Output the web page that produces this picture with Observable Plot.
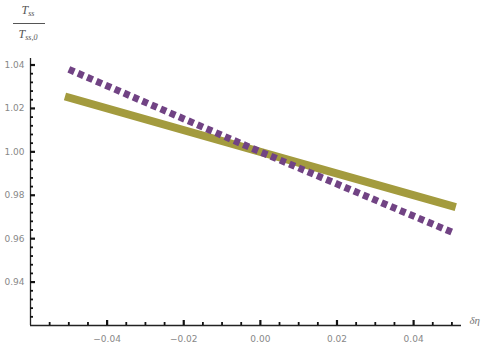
<!DOCTYPE html>
<html><head><meta charset="utf-8">
<script src="https://cdn.jsdelivr.net/npm/d3@7"></script>
<script src="https://cdn.jsdelivr.net/npm/@observablehq/plot@0.6"></script>
<style>body{margin:0;background:#fff}</style>
</head><body><div id="chart"></div>
<script>
const deltaEta = [-0.05, 0, 0.05];
const seriesGold = [1.025, 1.000, 0.975];
const seriesPurple = [1.038, 1.000, 0.963];
const xMajorTicks = [-0.04, -0.02, 0, 0.02, 0.04];
const xMinorTicks = [-0.055,-0.05,-0.045,-0.035,-0.03,-0.025,-0.015,-0.01,-0.005,0.005,0.01,0.015,0.025,0.03,0.035,0.045,0.05];
const yMajorTicks = [0.94, 0.96, 0.98, 1.00, 1.02, 1.04];
const yMinorTicks = [0.924,0.928,0.932,0.936,0.944,0.948,0.952,0.956,0.964,0.968,0.972,0.976,0.984,0.988,0.992,0.996,1.004,1.008,1.012,1.016,1.024,1.028,1.032,1.036];
const xDomain = [-0.06, 0.0525];
const yDomain = [0.92, 1.043];

const W = 484, H = 351, ML = 30, MR = 23, MT = 58, MB = 26;
const frameW = W - ML - MR, frameH = H - MT - MB;

const gold = deltaEta.map((x,i)=>({x, y: seriesGold[i]}));
const purple = deltaEta.map((x,i)=>({x, y: seriesPurple[i]}));
const fmt = d3.format(".2f");

const chart = Plot.plot({
  width: W, height: H,
  marginLeft: ML, marginRight: MR, marginTop: MT, marginBottom: MB,
  style: {background: "#fff", fontFamily: "DejaVu Sans, sans-serif"},
  x: {domain: xDomain, axis: null},
  y: {domain: yDomain, axis: null},
  marks: [
    Plot.line(gold, {x: "x", y: "y", stroke: "#a39b3e", strokeWidth: 8, strokeLinecap: "square"}),
    Plot.line(purple, {x: "x", y: "y", stroke: "#714384", strokeWidth: 7, strokeDasharray: "6,4", strokeLinecap: "butt"}),
    Plot.ruleY([yDomain[0]], {x1: xDomain[0], x2: xDomain[1], stroke: "#222", strokeWidth: 1.3}),
    Plot.ruleX([xDomain[0]], {y1: yDomain[0], y2: yDomain[1], stroke: "#222", strokeWidth: 1.3}),
    Plot.tickY(yMajorTicks, {y: d => d, insetRight: frameW - 5, stroke: "#111", strokeWidth: 2.2}),
    Plot.tickY(yMinorTicks, {y: d => d, insetRight: frameW - 3, stroke: "#111", strokeWidth: 1.8}),
    Plot.tickX(xMajorTicks, {x: d => d, insetTop: frameH - 5, stroke: "#111", strokeWidth: 2.2}),
    Plot.tickX(xMinorTicks, {x: d => d, insetTop: frameH - 3, stroke: "#111", strokeWidth: 1.8}),
    Plot.text(yMajorTicks, {x: () => xDomain[0], y: d => d, text: d => fmt(d), textAnchor: "end", dx: -6, fill: "#888", fontSize: 9}),
    Plot.text(xMajorTicks, {x: d => d, y: () => yDomain[0], text: d => fmt(d), dy: 14, fill: "#888", fontSize: 9}),
    Plot.text(["δη"], {frameAnchor: "bottom-right", dx: 8, dy: -2, text: d => d, textAnchor: "start", fill: "#777", fontSize: 11, fontStyle: "italic", fontFamily: "Liberation Serif, serif"})
  ]
});
document.getElementById("chart").append(chart);

// y-axis fraction label
const svg = d3.select(chart);
const g = svg.append("g").attr("font-family", "Liberation Serif, serif").attr("fill", "#555").attr("font-style", "italic");
const num = g.append("text").attr("x", 28).attr("y", 14).attr("text-anchor", "middle").attr("font-size", 12);
num.append("tspan").text("T");
num.append("tspan").attr("font-size", 8).attr("dy", 2).text("ss");
g.append("line").attr("x1", 13).attr("x2", 45).attr("y1", 23.5).attr("y2", 23.5).attr("stroke", "#555").attr("stroke-width", 1);
const den = g.append("text").attr("x", 28).attr("y", 38).attr("text-anchor", "middle").attr("font-size", 12);
den.append("tspan").text("T");
den.append("tspan").attr("font-size", 8).attr("dy", 2).text("ss,0");
</script>
</body></html>
